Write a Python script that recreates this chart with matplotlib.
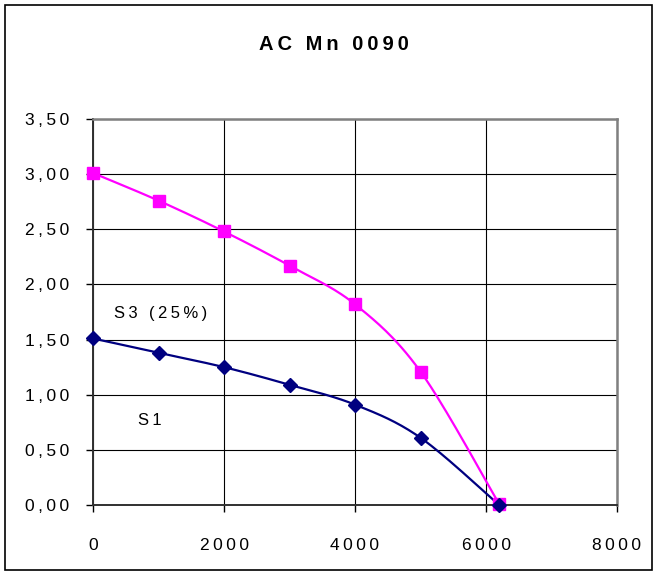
import numpy as np
import matplotlib
matplotlib.use("Agg")
import matplotlib.pyplot as plt
from matplotlib.patches import Rectangle
from matplotlib.ticker import FuncFormatter

plt.rcParams['font.family'] = ['Liberation Sans', 'DejaVu Sans']

# data
speed = [0, 1000, 2000, 3000, 4000, 5000, 6200]
torque_s3 = [3.01, 2.76, 2.48, 2.17, 1.82, 1.21, 0.01]
torque_s1 = [1.51, 1.38, 1.25, 1.09, 0.91, 0.61, 0.0]

xticks = [0, 2000, 4000, 6000, 8000]
yticks = [0, 0.5, 1.0, 1.5, 2.0, 2.5, 3.0, 3.5]

TS = "\u2009"  # thin space, to mimic the spaced lettering


def spaced(s):
    # letter-spaced words, wider gap between words
    return (TS + " " + TS).join(TS.join(w) for w in s.split(" "))


def smooth(x, y, kx, ky, n=30):
    # excel-like smoothed line: catmull-rom as bezier, done in screen-ish units
    p = np.column_stack([np.asarray(x, float) * kx, np.asarray(y, float) * ky])
    out = [p[0]]
    for i in range(len(p) - 1):
        p0 = p[i - 1] if i > 0 else p[i]
        p3 = p[i + 2] if i + 2 < len(p) else p[i + 1]
        p1, p2 = p[i], p[i + 1]
        c1 = p1 + (p2 - p0) / 6.0
        c2 = p2 - (p3 - p1) / 6.0
        t = np.linspace(0, 1, n)[1:, None]
        seg = ((1 - t) ** 3) * p1 + 3 * ((1 - t) ** 2) * t * c1 + 3 * (1 - t) * t ** 2 * c2 + t ** 3 * p2
        out.extend(seg)
    out = np.array(out)
    return out[:, 0] / kx, out[:, 1] / ky


fig = plt.figure(figsize=(6.58, 5.75), dpi=100)
fig.patches.append(Rectangle((5 / 658, 5 / 575), 647 / 658, 565 / 575,
                             transform=fig.transFigure, fill=False,
                             edgecolor='black', linewidth=1.2))

ax = fig.add_axes([93 / 658, 70 / 575, 524 / 658, 386 / 575])

kx = 524 / 8000.0
ky = 386 / 3.5

sx, sy = smooth(speed, torque_s3, kx, ky)
ax.plot(sx, sy, color='#ff00ff', linewidth=1.6, zorder=3)
ax.plot(speed, torque_s3, linestyle='none', marker='s', markersize=8,
        color='#ff00ff', zorder=4, clip_on=False)

sx, sy = smooth(speed, torque_s1, kx, ky)
ax.plot(sx, sy, color='#000080', linewidth=1.6, zorder=3)
ax.plot(speed, torque_s1, linestyle='none', marker='D', markersize=7.5,
        color='#000080', zorder=4, clip_on=False)

ax.set_xlim(0, 8000)
ax.set_ylim(0, 3.5)
ax.set_xticks(xticks)
ax.set_yticks(yticks)
ax.xaxis.set_major_formatter(FuncFormatter(lambda v, p: spaced("%d" % v)))
ax.yaxis.set_major_formatter(FuncFormatter(lambda v, p: spaced(("%.2f" % v).replace(".", ","))))
ax.tick_params(axis='x', direction='out', length=5, width=1, pad=19, labelsize=12.5)
ax.tick_params(axis='y', direction='out', length=5, width=1, pad=12, labelsize=12.5)
ax.grid(True, color='black', linewidth=0.8)
ax.set_axisbelow(True)
for side in ['top', 'right']:
    ax.spines[side].set_color('#808080')
    ax.spines[side].set_linewidth(1.8)
for side in ['left', 'bottom']:
    ax.spines[side].set_color('#303030')
    ax.spines[side].set_linewidth(1.4)

ax.text(1040, 1.735, spaced("S3 (25%)"), ha='center', va='center', fontsize=12)
ax.text(870, 0.77, spaced("S1"), ha='center', va='center', fontsize=12)

fig.text(334 / 658, 1 - 45 / 575, spaced("AC Mn 0090"),
         ha='center', va='center', fontsize=14.5, fontweight='bold')

fig.savefig("out.png", dpi=100)
